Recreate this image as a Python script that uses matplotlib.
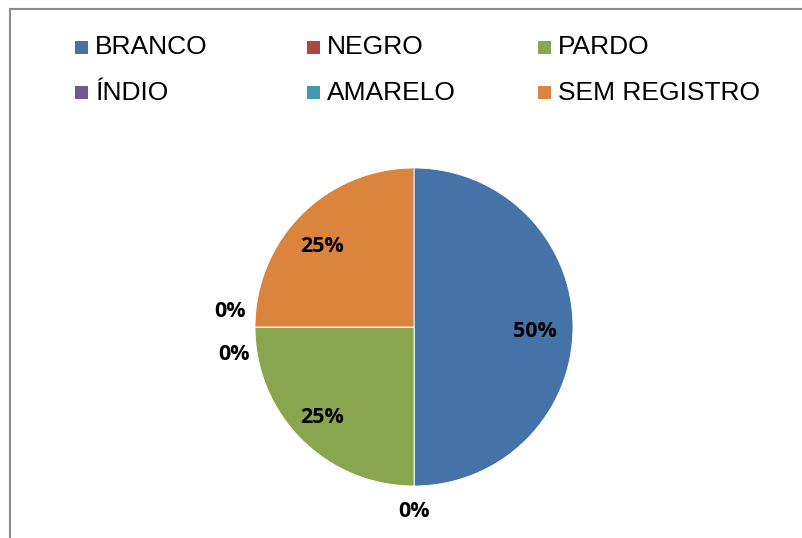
import matplotlib
matplotlib.use('Agg')
import matplotlib.pyplot as plt
from matplotlib.patches import Rectangle
import numpy as np

categories = ['BRANCO', 'NEGRO', 'PARDO', 'ÍNDIO', 'AMARELO', 'SEM REGISTRO']
values = [50, 0, 25, 0, 0, 25]
colors = ['#4572A7', '#AA4643', '#89A54E', '#71588F', '#4198AF', '#DB843D']
# small nudges for the stacked 0% labels (axis units)
zero_nudge = {'NEGRO': (0.0, 0.0), 'ÍNDIO': (0.03, -0.17), 'AMARELO': (0.0, 0.10)}

W, H = 803, 538
fig = plt.figure(figsize=(W / 100, H / 100), dpi=100)

# outer frame (right/bottom cut off like the original)
fig.patches.append(Rectangle((10.5 / W, -0.1), 1.2, 1 - 9.5 / H + 0.1,
                             transform=fig.transFigure, fill=False,
                             edgecolor='#8c8c8c', linewidth=1.5))

cx, cy, r = 414, 327, 159
ax = fig.add_axes([(cx - r) / W, (H - cy - r) / H, 2 * r / W, 2 * r / H])
wedges, _ = ax.pie(values, colors=colors, startangle=90, counterclock=False,
                   radius=1, wedgeprops=dict(edgecolor='white', linewidth=0.6))
ax.set_xlim(-1, 1)
ax.set_ylim(-1, 1)
ax.set_aspect('equal')
ax.axis('off')

total = sum(values)
for w, name, v in zip(wedges, categories, values):
    mid = np.deg2rad((w.theta1 + w.theta2) / 2)
    pct = f'{round(100 * v / total)}%'
    if v > 0:
        d = 0.76
        x, y = d * np.cos(mid), d * np.sin(mid) - 0.03
        if v < 50:
            x -= 0.04
    else:
        d = 1.16
        dx, dy = zero_nudge[name]
        x, y = d * np.cos(mid) + dx, d * np.sin(mid) + dy
    ax.text(x, y, pct, ha='center', va='center', fontsize=15.5,
            fontweight='bold', family='Open Sans', color='black', clip_on=False)

# legend: 2 rows x 3 columns, drawn in figure pixels
col_x = [75, 307, 538]
row_y = [47.5, 92.5]
sq = 13
for i, (name, c) in enumerate(zip(categories, colors)):
    row, col = divmod(i, 3)
    x0, y0 = col_x[col], row_y[row]
    fig.patches.append(Rectangle((x0 / W, (H - y0 - sq / 2) / H), sq / W, sq / H,
                                 transform=fig.transFigure, facecolor=c,
                                 edgecolor='none'))
    fig.text((x0 + 20) / W, (H - y0) / H, name, ha='left', va='center',
             fontsize=19, family='Liberation Sans', color='black')

fig.savefig('out.png', dpi=100, facecolor='white')
